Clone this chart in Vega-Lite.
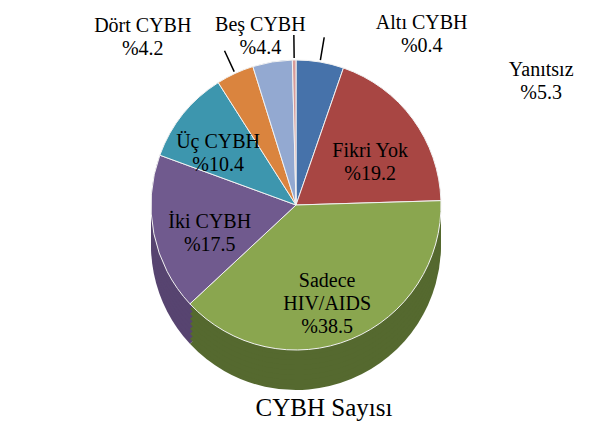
{
  "$schema": "https://vega.github.io/schema/vega-lite/v6.json",
  "width": 592,
  "height": 410,
  "autosize": {"type": "none"},
  "padding": {"top": 0, "bottom": 22, "left": 0, "right": 0},
  "background": "white",
  "title": {"text": "CYBH Sayısı", "orient": "bottom", "frame": "group", "offset": -14, "dx": 28, "font": "Liberation Serif", "fontSize": 25, "fontWeight": "normal", "color": "#000000"},
  "config": {"view": {"stroke": null}, "text": {"font": "Liberation Serif"}},
  "data": {"values": [
    {"kategori": "Yanıtsız", "yuzde": 5.3, "sira": 1, "etiket": "Yanıtsız\n%5.3"},
    {"kategori": "Fikri Yok", "yuzde": 19.2, "sira": 2, "etiket": "Fikri Yok\n%19.2"},
    {"kategori": "Sadece HIV/AIDS", "yuzde": 38.5, "sira": 3, "etiket": "Sadece\nHIV/AIDS\n%38.5"},
    {"kategori": "İki CYBH", "yuzde": 17.5, "sira": 4, "etiket": "İki CYBH\n%17.5"},
    {"kategori": "Üç CYBH", "yuzde": 10.4, "sira": 5, "etiket": "Üç CYBH\n%10.4"},
    {"kategori": "Dört CYBH", "yuzde": 4.2, "sira": 6, "etiket": "Dört CYBH\n%4.2"},
    {"kategori": "Beş CYBH", "yuzde": 4.4, "sira": 7, "etiket": "Beş CYBH\n%4.4"},
    {"kategori": "Altı CYBH", "yuzde": 0.4, "sira": 8, "etiket": "Altı CYBH\n%0.4"}
  ]},
  "encoding": {
    "theta": {"field": "yuzde", "type": "quantitative", "stack": true},
    "order": {"field": "sira", "type": "quantitative"}
  },
  "layer": [
    {"mark": {"type": "arc", "radius": 145, "yOffset": 40}, "encoding": {"fill": {"field": "kategori", "type": "nominal", "legend": null, "scale": {"domain": ["Yanıtsız", "Fikri Yok", "Sadece HIV/AIDS", "İki CYBH", "Üç CYBH", "Dört CYBH", "Beş CYBH", "Altı CYBH"], "range": ["#35527C", "#7A2F2D", "#55692F", "#574470", "#2C6C7E", "#A0602C", "#6C7D9C", "#9E6E6D"]}}}},
    {"mark": {"type": "arc", "radius": 145, "yOffset": 35}, "encoding": {"fill": {"field": "kategori", "type": "nominal", "legend": null}}},
    {"mark": {"type": "arc", "radius": 145, "yOffset": 30}, "encoding": {"fill": {"field": "kategori", "type": "nominal", "legend": null}}},
    {"mark": {"type": "arc", "radius": 145, "yOffset": 25}, "encoding": {"fill": {"field": "kategori", "type": "nominal", "legend": null}}},
    {"mark": {"type": "arc", "radius": 145, "yOffset": 20}, "encoding": {"fill": {"field": "kategori", "type": "nominal", "legend": null}}},
    {"mark": {"type": "arc", "radius": 145, "yOffset": 15}, "encoding": {"fill": {"field": "kategori", "type": "nominal", "legend": null}}},
    {"mark": {"type": "arc", "radius": 145, "yOffset": 10}, "encoding": {"fill": {"field": "kategori", "type": "nominal", "legend": null}}},
    {"mark": {"type": "arc", "radius": 145, "yOffset": 5}, "encoding": {"fill": {"field": "kategori", "type": "nominal", "legend": null}}},
    {"mark": {"type": "arc", "radius": 145, "stroke": "#F2F2F2", "strokeWidth": 1}, "encoding": {"color": {"field": "kategori", "type": "nominal", "legend": null, "scale": {"domain": ["Yanıtsız", "Fikri Yok", "Sadece HIV/AIDS", "İki CYBH", "Üç CYBH", "Dört CYBH", "Beş CYBH", "Altı CYBH"], "range": ["#4672AA", "#A84643", "#8AA64F", "#705A8E", "#3D96AE", "#DA843E", "#93A9D1", "#D79B9A"]}}}},
    {"mark": {"type": "arc", "radius": 170, "radius2": 147, "padAngle": 0.6, "strokeWidth": 1.5, "fillOpacity": 0},
     "encoding": {"stroke": {"condition": {"test": "datum.kategori === 'Dört CYBH' || datum.kategori === 'Altı CYBH' || datum.kategori === 'Yanıtsız'", "value": "#000000"}, "value": "transparent"}}},
    {"mark": {"type": "text", "font": "Liberation Serif", "fontSize": 20, "lineBreak": "\n", "lineHeight": 23, "align": "center", "baseline": "middle", "color": "#000000",
      "radius": {"expr": "datum.kategori === 'Fikri Yok' ? 92 : datum.kategori === 'Sadece HIV/AIDS' ? 82 : datum.kategori === 'İki CYBH' ? 88 : datum.kategori === 'Üç CYBH' ? 100 : datum.kategori === 'Dört CYBH' ? 186 : 182"},
      "dx": {"expr": "datum.kategori === 'Dört CYBH' ? -75 : datum.kategori === 'Beş CYBH' ? -6 : datum.kategori === 'Altı CYBH' ? 128 : datum.kategori === 'Yanıtsız' ? 215 : 0"},
      "dy": {"expr": "datum.kategori === 'Dört CYBH' ? -10 : datum.kategori === 'Yanıtsız' ? 44 : 0"}},
     "encoding": {"text": {"field": "etiket"}}}
  ]
}
